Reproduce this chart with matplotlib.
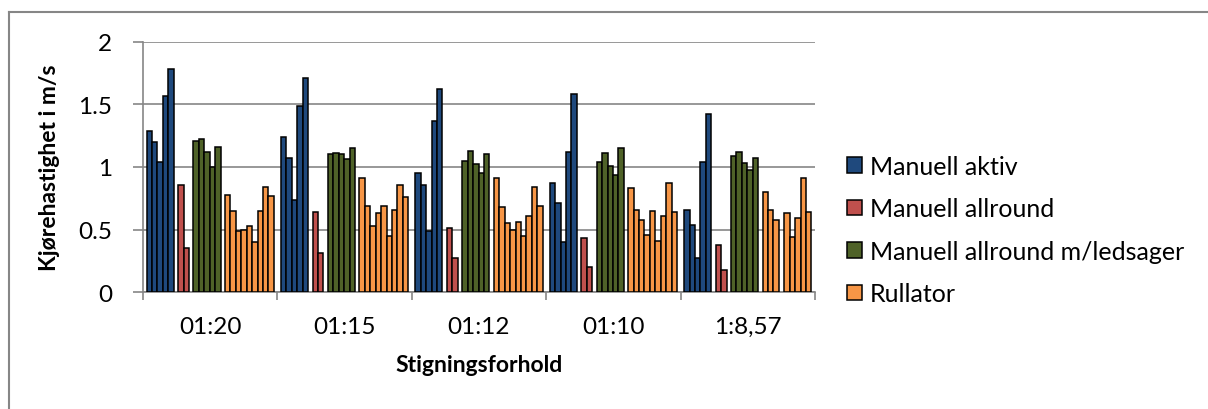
import numpy as np
import matplotlib
matplotlib.use('Agg')
import matplotlib.pyplot as plt
from matplotlib.lines import Line2D

plt.rcParams['font.family'] = ['Lato', 'DejaVu Sans']

categories = ['01:20', '01:15', '01:12', '01:10', '1:8,57']

# one row per category, one column per person
manuell_aktiv = [[1.29, 1.20, 1.04, 1.57, 1.78],
                 [1.24, 1.07, 0.74, 1.49, 1.71],
                 [0.95, 0.86, 0.49, 1.37, 1.62],
                 [0.87, 0.71, 0.40, 1.12, 1.58],
                 [0.66, 0.54, 0.27, 1.04, 1.42]]
manuell_allround = [[0.86, 0.35],
                    [0.64, 0.31],
                    [0.51, 0.27],
                    [0.43, 0.20],
                    [0.38, 0.18]]
manuell_ledsager = [[1.21, 1.22, 1.12, 1.00, 1.16],
                    [1.10, 1.11, 1.10, 1.06, 1.15],
                    [1.05, 1.13, 1.02, 0.95, 1.10],
                    [1.04, 1.11, 1.01, 0.94, 1.15],
                    [1.09, 1.12, 1.03, 0.98, 1.07]]
rullator = [[0.78, 0.65, 0.49, 0.50, 0.53, 0.40, 0.65, 0.84, 0.77],
            [0.91, 0.69, 0.53, 0.63, 0.69, 0.45, 0.66, 0.86, 0.76],
            [0.91, 0.68, 0.55, 0.50, 0.56, 0.45, 0.61, 0.84, 0.69],
            [0.83, 0.66, 0.58, 0.46, 0.65, 0.41, 0.61, 0.87, 0.64],
            [0.80, 0.66, 0.58, np.nan, 0.63, 0.44, 0.59, 0.91, 0.64]]

groups = [('Manuell aktiv', manuell_aktiv, '#1F497D'),
          ('Manuell allround', manuell_allround, '#C0504D'),
          ('Manuell allround m/ledsager', manuell_ledsager, '#4F6228'),
          ('Rullator', rullator, '#F79646')]

fig = plt.figure(figsize=(12.08, 4.10), dpi=100)
ax = fig.add_axes([143/1208, 1 - 293.3/410, 672/1208, 250.6/410])

x = np.arange(len(categories))
w = 0.0403   # bar width
gap = 0.0333  # space between device groups
n_bars = sum(len(g[1][0]) for g in groups)
total = n_bars*w + (len(groups) - 1)*gap
pos = -total/2
for label, vals, col in groups:
    vals = np.array(vals, dtype=float)
    for j in range(vals.shape[1]):
        ax.bar(x + pos + w/2, vals[:, j], w, color=col, edgecolor='black',
               linewidth=1.1, label=label if j == 0 else None, zorder=3)
        pos += w
    pos += gap

grid_c = '#868686'
ax.set_ylim(0, 2)
ax.set_yticks([0, 0.5, 1, 1.5, 2])
ax.set_yticklabels(['0', '0.5', '1', '1.5', '2'])
ax.yaxis.grid(True, color=grid_c, linewidth=1.2, zorder=0)
ax.set_xlim(-0.5, len(categories) - 0.5)
ax.set_xticks(np.arange(-0.5, len(categories)))
ax.set_xticklabels([])
ax.set_xticks(x, minor=True)
ax.set_xticklabels(categories, minor=True)
ax.tick_params(axis='x', which='major', length=6, color=grid_c, width=1.2)
ax.tick_params(axis='x', which='minor', length=0, pad=17, labelsize=17.5)
ax.tick_params(axis='y', length=7, color=grid_c, width=1.2, pad=15, labelsize=17.5)
for s in ['top', 'right']:
    ax.spines[s].set_visible(False)
for s in ['left', 'bottom']:
    ax.spines[s].set_color(grid_c)
    ax.spines[s].set_linewidth(1.2)

ax.set_ylabel('Kjørehastighet i m/s', fontsize=16.5, fontweight='bold')
ax.yaxis.set_label_coords(-0.123, 0.5)
ax.set_xlabel('Stigningsforhold', fontsize=16.5, fontweight='bold', labelpad=12)

ax.legend(loc='center left', bbox_to_anchor=(834/1208, 1 - 231/410),
          bbox_transform=fig.transFigure, frameon=False, fontsize=18,
          handlelength=0.6, handleheight=0.6, handletextpad=0.35,
          labelspacing=0.78, borderpad=0)

# outer chart frame (only left and top edges fall inside the image)
fig.add_artist(Line2D([9/1208, 9/1208], [0, 1 - 13/410], transform=fig.transFigure,
                      color=grid_c, linewidth=1.5))
fig.add_artist(Line2D([9/1208, 1], [1 - 13/410, 1 - 13/410], transform=fig.transFigure,
                      color=grid_c, linewidth=1.5))

fig.savefig('out.png', dpi=100)
